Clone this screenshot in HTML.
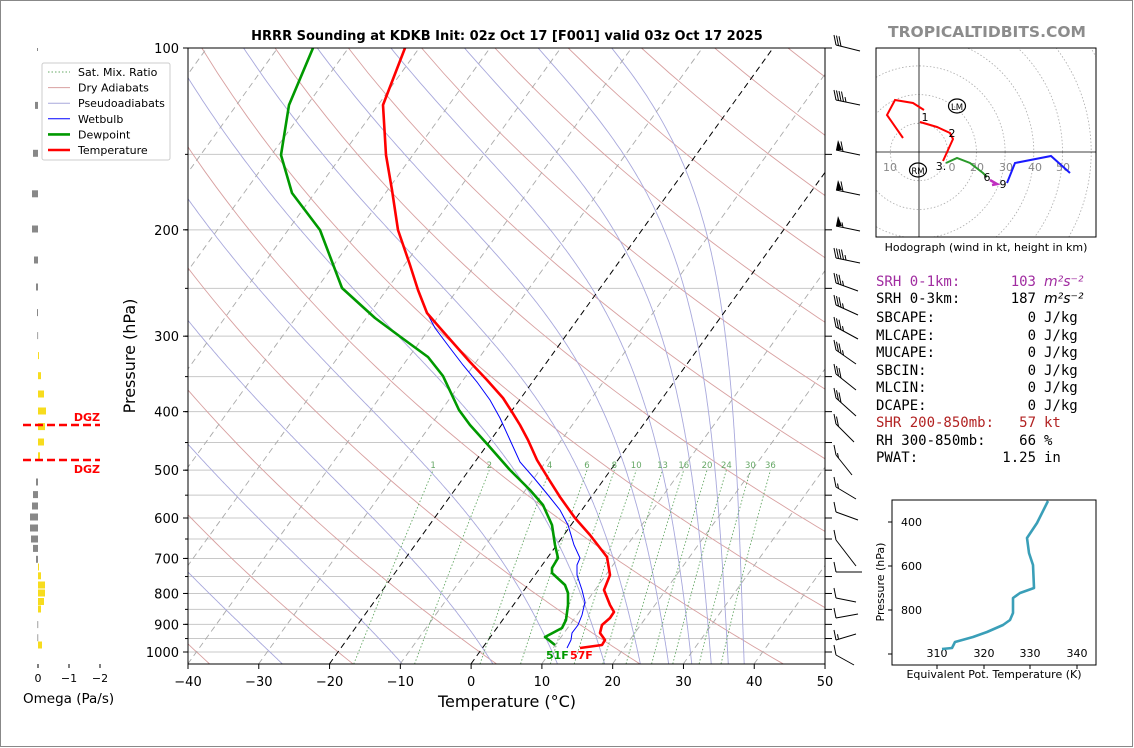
<!DOCTYPE html>
<html><head><meta charset="utf-8">
<style>
html,body{margin:0;padding:0;background:#fff;}
svg{display:block;font-family:"DejaVu Sans","Liberation Sans",sans-serif;}
</style></head>
<body>
<svg id="s" width="1134" height="748" viewBox="0 0 1134 748" xmlns="http://www.w3.org/2000/svg">
<defs><clipPath id="c"><rect x="188" y="48" width="637" height="616"/></clipPath>
<clipPath id="hc"><rect x="876" y="48" width="220" height="189"/></clipPath></defs>
<rect x="0.5" y="0.5" width="1132" height="746" fill="#fff" stroke="#888"/>
<g id="bg" clip-path="url(#c)"></g>
<g id="fg"></g>
</svg>
<script>
var NS="http://www.w3.org/2000/svg";
var bg=document.getElementById('bg'),fg=document.getElementById('fg');
function el(p,t,a,txt){var e=document.createElementNS(NS,t);for(var k in a)e.setAttribute(k,a[k]);if(txt!==undefined)e.textContent=txt;p.appendChild(e);return e;}
function yP(p){return 48+Math.log10(p/100)*604;}
function xT(t,p){return 188+(t+40)*7.078+(664-yP(p))*0.72;}
function pl(g,pts,a){a.points=pts.map(function(q){return q[0].toFixed(1)+','+q[1].toFixed(1)}).join(' ');a.fill='none';return el(g,'polyline',a);}
// isobars
for(var p=100;p<=1000;p+=50){var y=yP(p);el(bg,'line',{x1:188,x2:825,y1:y,y2:y,stroke:'#c8c8c8','stroke-width':1});}
// dry adiabats
for(var th=213.15;th<=493.15;th+=20){var pts=[];for(var p=1060;p>=100;p-=10){var t=th*Math.pow(p/1000,0.286)-273.15;pts.push([xT(t,p),yP(p)]);}pl(bg,pts,{stroke:'#d8a0a0','stroke-width':0.9});}
// moist adiabats (integrated downward from 100 hPa)
function es(tc){return 6.112*Math.exp(17.67*tc/(tc+243.5));}
function dTdp(T,p){var e=es(T-273.15),rs=0.622*e/(p-e);return (287*T+2.5e6*rs)/(p*(1005+2.5e6*2.5e6*rs*0.622/(287*T*T)));}
for(var t100=-42.8;t100>=-170;t100-=10.4){
 var T=t100+273.15,p=100,pts=[[xT(t100,100),yP(100)]];
 while(p<1060){var d=2;T+=dTdp(T,p)*d;p+=d;pts.push([xT(T-273.15,p),yP(p)]);}
 pl(bg,pts,{stroke:'#a8a8dc','stroke-width':0.9});}
// isotherms
for(var t=-150;t<=50;t+=10){var blk=(t==0||t==-20);el(bg,'line',{x1:xT(t,1048),y1:664,x2:xT(t,100),y2:48,stroke:blk?'#000':'#aaa','stroke-width':blk?1:0.9,'stroke-dasharray':'6,4'});}
// mixing ratio
[1,2,4,6,8,10,13,16,20,24,30,36].forEach(function(w){var pts=[];for(var p=1060;p>=500;p-=10){var e=p*w/1000/(0.622+w/1000),l=Math.log(e/6.112),td=243.5*l/(17.67-l);pts.push([xT(td,p),yP(p)]);}
 pl(bg,pts,{stroke:'#66a866','stroke-width':0.9,'stroke-dasharray':'1.5,2'});
 var e=500*w/1000/(0.622+w/1000),l=Math.log(e/6.112),td=243.5*l/(17.67-l);
 el(bg,'text',{x:xT(td,500),y:468,'font-size':8.5,fill:'#66a866','text-anchor':'middle'},''+w);});
// profiles
var Tp=[[405,48],[383,105],[386,155],[392,190],[398,230],[410,265],[418,290],[427,313],[440,328],[455,345],[470,362],[487,380],[503,398],[512,412],[520,425],[528,440],[537,460],[548,478],[560,497],[575,518],[590,535],[607,557],[610,575],[604,590],[610,605],[614,612],[610,618],[602,625],[600,633],[605,640],[602,645],[580,648]];
var Wb=[[405,48],[383,105],[386,155],[392,190],[398,230],[410,265],[418,290],[427,313],[435,328],[450,348],[463,365],[477,382],[490,400],[500,418],[510,440],[520,462],[534,478],[548,495],[560,510],[568,525],[574,545],[580,558],[577,565],[577,575],[582,590],[585,602],[582,615],[578,625],[572,633],[571,640],[567,648]];
var Dp=[[313,48],[289,105],[281,155],[292,193],[320,230],[342,288],[375,318],[402,338],[428,357],[443,376],[459,410],[470,425],[488,445],[510,470],[530,490],[543,505],[552,525],[555,545],[558,558],[552,568],[552,573],[565,585],[568,593],[568,605],[566,620],[562,628],[545,637],[555,645]];
var pg=el(fg,'g',{'clip-path':'url(#c)'});
pl(pg,Wb,{stroke:'#0000ff','stroke-width':1});
pl(pg,Dp,{stroke:'#009900','stroke-width':2.6,'stroke-linejoin':'round'});
pl(pg,Tp,{stroke:'#ff0000','stroke-width':2.6,'stroke-linejoin':'round'});
el(fg,'text',{x:546,y:659,'font-size':11,'font-weight':'bold',fill:'#009900'},'51F');
el(fg,'text',{x:570,y:659,'font-size':11,'font-weight':'bold',fill:'#ff0000'},'57F');
// axes frame
el(fg,'rect',{x:188,y:48,width:637,height:616,fill:'none',stroke:'#000','stroke-width':1});
[100,200,300,400,500,600,700,800,900,1000].forEach(function(p){var y=yP(p);el(fg,'line',{x1:183,x2:188,y1:y,y2:y,stroke:'#000'});el(fg,'text',{x:179,y:y+5,'font-size':13,'text-anchor':'end'},''+p);});
for(var p=100;p<=1000;p+=50){var y=yP(p);el(fg,'line',{x1:185,x2:188,y1:y,y2:y,stroke:'#000'});el(fg,'line',{x1:825,x2:832,y1:y,y2:y,stroke:'#000'});}
for(var t=-40;t<=50;t+=10){var x=188+(t+40)*7.078;el(fg,'line',{x1:x,x2:x,y1:664,y2:669,stroke:'#000'});el(fg,'text',{x:x,y:686,'font-size':13,'text-anchor':'middle'},(t<0?'\u2212'+(-t):''+t));}
el(fg,'text',{x:507,y:707,'font-size':16,'text-anchor':'middle'},'Temperature (\u00B0C)');
el(fg,'text',{x:135,y:356,'font-size':16,'text-anchor':'middle',transform:'rotate(-90 135 356)'},'Pressure (hPa)');
el(fg,'text',{x:507,y:40,'font-size':13,'font-weight':'bold','text-anchor':'middle'},'HRRR Sounding at KDKB Init: 02z Oct 17 [F001] valid 03z Oct 17 2025');
el(fg,'text',{x:987,y:37,'font-size':15.5,'font-weight':'bold','text-anchor':'middle',fill:'#8c8c8c'},'TROPICALTIDBITS.COM');
// legend
el(fg,'rect',{x:42,y:63,width:128,height:97,fill:'#fff',stroke:'#ccc',rx:2});
var lg=[['Sat. Mix. Ratio','#66a866',1,'1.5,2'],['Dry Adiabats','#d8a0a0',1,''],['Pseudoadiabats','#a8a8dc',1,''],['Wetbulb','#0000ff',1,''],['Dewpoint','#009900',2.6,''],['Temperature','#ff0000',2.6,'']];
lg.forEach(function(r,i){var y=72+i*15.6;var a={x1:48,x2:70,y1:y,y2:y,stroke:r[1],'stroke-width':r[2]};if(r[3])a['stroke-dasharray']=r[3];el(fg,'line',a);el(fg,'text',{x:78,y:y+4,'font-size':11},r[0]);});
// omega
var ob=[[105.4,35,'g'],[153.3,33,'g'],[193.8,32,'g'],[229,32,'g'],[260,34,'g'],[287,36,'g'],[312.6,37,'g'],[335.6,37.3,'g'],
[355.6,39,'y'],[375.7,41,'y'],[394,44,'y'],[411,46,'y'],[426.6,45,'y'],[442,44,'y'],[455.8,40,'y'],
[482,36,'g'],[494.6,33,'g'],[506,32,'g'],[517,30,'g'],[528,30,'g'],[539,31,'g'],[548.4,33,'g'],[559.3,36,'g'],
[567,39,'y'],[575.8,41,'y'],[585,45,'y'],[593,45,'y'],[601.5,44,'y'],[609,41,'y'],[624.6,37.4,'g'],[637.7,37.4,'g'],[645,42,'y']];
ob.forEach(function(b){var x0=Math.min(38,b[1]),w=Math.max(0.8,Math.abs(b[1]-38));el(fg,'rect',{x:x0,y:b[0]-3.5,width:w,height:7,fill:b[2]=='g'?'#888':'#f7dc1e'});});
el(fg,'rect',{x:37,y:48,width:1,height:3,fill:'#888'});
el(fg,'line',{x1:23,x2:100,y1:425,y2:425,stroke:'#f00','stroke-width':2.5,'stroke-dasharray':'8,4'});
el(fg,'line',{x1:23,x2:100,y1:460,y2:460,stroke:'#f00','stroke-width':2.5,'stroke-dasharray':'8,4'});
el(fg,'text',{x:100,y:421,'font-size':11,'font-weight':'bold',fill:'#f00','text-anchor':'end'},'DGZ');
el(fg,'text',{x:100,y:473,'font-size':11,'font-weight':'bold',fill:'#f00','text-anchor':'end'},'DGZ');
[[38,'0'],[69,'\u22121'],[100,'\u22122']].forEach(function(t){el(fg,'line',{x1:t[0],x2:t[0],y1:664,y2:668,stroke:'#000'});el(fg,'text',{x:t[0],y:682,'font-size':11,'text-anchor':'middle'},t[1]);});
el(fg,'text',{x:23,y:703,'font-size':13.5},'Omega (Pa/s)');
// wind barbs
var bb=[[45,3,0,0,24,6],[100,4,1,0,24,5],[150,1,0,1,24,5],[190,1,0,1,24,5],[226,0,1,1,24,5],[258,4,1,0,24,5],[283,3,1,0,22,8],[305,3,1,0,22,10],[327,3,1,0,22,12],[350,3,1,0,20,14],[374,3,0,0,20,16],[398,3,0,0,20,18],[424,2,0,0,18,18],[455,1,1,0,16,20],[487,1,1,0,20,12],[512,1,0,0,22,8],[540,1,0,0,20,26],[572,1,0,0,26,0],[598,1,0,0,20,4],[618,1,0,0,22,-4],[640,1,1,0,20,-6],[655,1,0,0,18,10]];
bb.forEach(function(b){var x=836,y=b[0];el(fg,'line',{x1:x,y1:y,x2:x+b[4],y2:y+b[5],stroke:'#000','stroke-width':1});
 var off=0;if(b[3]){el(fg,'polygon',{points:(x+off)+','+y+' '+(x+off+6)+','+y+' '+(x+off+2)+','+(y-10),fill:'#000'});off+=7;}
 for(var i=0;i<b[1];i++){el(fg,'line',{x1:x+off,y1:y+off*b[5]/b[4],x2:x+off-2,y2:y+off*b[5]/b[4]-10,stroke:'#000','stroke-width':1});off+=2.5;}
 if(b[2]){el(fg,'line',{x1:x+off,y1:y+off*b[5]/b[4],x2:x+off-1,y2:y+off*b[5]/b[4]-5,stroke:'#000','stroke-width':1});}});
// hodograph
var hg=el(fg,'g',{'clip-path':'url(#hc)'});
var cx=919,cy=152,k=2.87;
for(var r=10;r<=80;r+=10)el(hg,'circle',{cx:cx,cy:cy,r:r*k,fill:'none',stroke:'#aaa','stroke-width':0.8,'stroke-dasharray':'1.5,2'});
el(hg,'line',{x1:876,x2:1096,y1:cy,y2:cy,stroke:'#000','stroke-width':0.8});
el(hg,'line',{x1:cx,x2:cx,y1:48,y2:237,stroke:'#000','stroke-width':0.8});
[[890,'10'],[977,'20'],[1006,'30'],[1035,'40'],[1063,'50']].forEach(function(t){el(hg,'text',{x:t[0],y:171,'font-size':11,fill:'#888','text-anchor':'middle'},t[1]);});
el(hg,'text',{x:952,y:171,'font-size':11,fill:'#888','text-anchor':'middle'},'0');
pl(hg,[[903,138],[887,115],[895,100],[913,103],[924,110]],{stroke:'#f00','stroke-width':2});
pl(hg,[[920,122],[937,127],[950,133],[953,139],[948,150],[943,161]],{stroke:'#f00','stroke-width':2});
pl(hg,[[946,163],[957,158],[970,163],[983,173],[987,177]],{stroke:'#2a9a2a','stroke-width':2});
pl(hg,[[990,180],[997,184],[992,185]],{stroke:'#c030c0','stroke-width':2.5});
pl(hg,[[1007,183],[1015,163],[1051,156],[1070,173]],{stroke:'#1a1aff','stroke-width':2});
[[925,121,'1'],[952,137,'2'],[941,170,'3.'],[987,181,'6'],[1003,188,'9']].forEach(function(t){el(hg,'text',{x:t[0],y:t[1],'font-size':11,'text-anchor':'middle'},t[2]);});
el(hg,'ellipse',{cx:957,cy:106,rx:8.5,ry:7,fill:'none',stroke:'#000','stroke-width':1.2});
el(hg,'text',{x:957,y:110,'font-size':8.5,'text-anchor':'middle'},'LM');
el(hg,'ellipse',{cx:918,cy:170,rx:8.5,ry:7,fill:'none',stroke:'#000','stroke-width':1.2});
el(hg,'text',{x:918,y:174,'font-size':8.5,'text-anchor':'middle'},'RM');
el(fg,'rect',{x:876,y:48,width:220,height:189,fill:'none',stroke:'#000','stroke-width':1});
el(fg,'text',{x:986,y:251,'font-size':11,'text-anchor':'middle'},'Hodograph (wind in kt, height in km)');
// stats
var rows=[['SRH 0-1km:','103','m\u00B2s\u207B\u00B2','#a02ca0',1],['SRH 0-3km:','187','m\u00B2s\u207B\u00B2','#000',1],['SBCAPE:','0','J/kg','#000'],['MLCAPE:','0','J/kg','#000'],['MUCAPE:','0','J/kg','#000'],['SBCIN:','0','J/kg','#000'],['MLCIN:','0','J/kg','#000'],['DCAPE:','0','J/kg','#000'],['SHR 200-850mb:','57','kt','#b22222'],['RH 300-850mb:','66','%','#000'],['PWAT:','1.25','in','#000']];
var ry=[286,303,322,340,357,375,392,410,427,445,462];
rows.forEach(function(r,i){var a={'font-size':14,fill:r[3],'font-family':'"DejaVu Sans Mono","Liberation Mono",monospace'};
 el(fg,'text',Object.assign({x:876,y:ry[i]},a),r[0]);
 el(fg,'text',Object.assign({x:1036,y:ry[i],'text-anchor':'end'},a),r[1]);
 var u=el(fg,'text',Object.assign({x:1044,y:ry[i]},a),r[2]);if(r[4]){u.setAttribute('font-style','italic');u.setAttribute('font-family','"DejaVu Sans",sans-serif');}});
// theta-e panel
el(fg,'rect',{x:892,y:500,width:204,height:165,fill:'none',stroke:'#000','stroke-width':1});
[[522,'400'],[566,'600'],[610,'800']].forEach(function(t){el(fg,'line',{x1:888,x2:892,y1:t[0],y2:t[0],stroke:'#000'});el(fg,'text',{x:922,y:t[0]+4,'font-size':11,'text-anchor':'end'},t[1]);});
el(fg,'line',{x1:888,x2:892,y1:654,y2:654,stroke:'#000'});
[[937,'310'],[984,'320'],[1030,'330'],[1077,'340']].forEach(function(t){el(fg,'line',{x1:t[0],x2:t[0],y1:665,y2:669,stroke:'#000'});el(fg,'text',{x:t[0],y:657,'font-size':11,'text-anchor':'middle'},t[1]);});
pl(fg,[[1048,501],[1037,523],[1027,538],[1029,553],[1033,565],[1034,588],[1020,593],[1013,598],[1013,613],[1010,620],[1003,625],[987,632],[973,637],[955,642],[952,648],[942,649]],{stroke:'#3a9fb8','stroke-width':2.6,'stroke-linejoin':'round'});
el(fg,'text',{x:884,y:582,'font-size':11,'text-anchor':'middle',transform:'rotate(-90 884 582)'},'Pressure (hPa)');
el(fg,'text',{x:994,y:678,'font-size':11,'text-anchor':'middle'},'Equivalent Pot. Temperature (K)');
</script>
</body></html>
